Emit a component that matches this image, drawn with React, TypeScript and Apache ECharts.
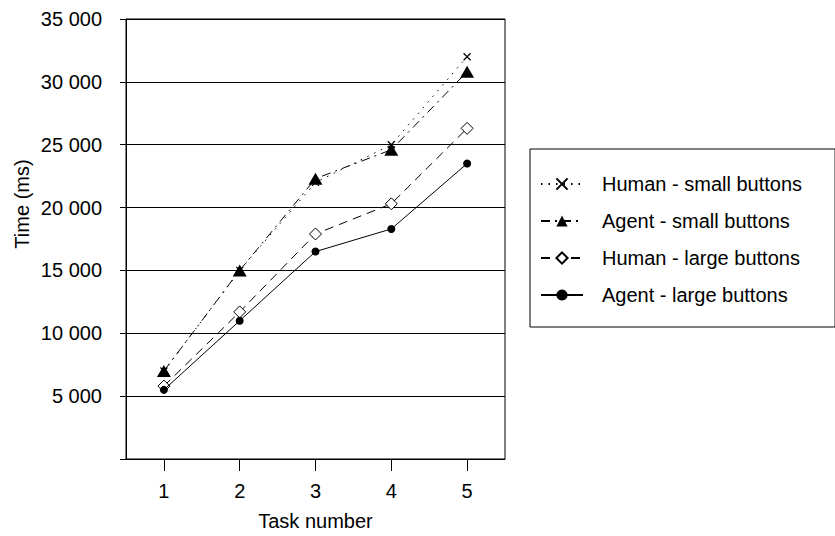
import React, { useEffect, useRef } from "react";
import * as echarts from "echarts";

const categories = ["1", "2", "3", "4", "5"];
const humanSmall = [7000, 15000, 22000, 25000, 32000];
const agentSmall = [7000, 15000, 22300, 24600, 30800];
const humanLarge = [5800, 11700, 17900, 20300, 26300];
const agentLarge = [5500, 11000, 16500, 18300, 23500];
const seriesNames = [
  "Human - small buttons",
  "Agent - small buttons",
  "Human - large buttons",
  "Agent - large buttons",
];

const FONT = "'Liberation Sans', Arial, sans-serif";
const FS = 20;

function fmt(v: number): string {
  if (v === 0) return "";
  return String(v).replace(/\B(?=(\d{3})+(?!\d))/g, " ");
}

export default function App() {
  const ref = useRef<HTMLDivElement>(null);
  useEffect(() => {
    if (!ref.current) return;
    const chart = echarts.init(ref.current, undefined, { renderer: "svg" });
    const black = "#000";
    chart.setOption({
      animation: false,
      backgroundColor: "#fff",
      textStyle: { fontFamily: FONT, color: black },
      grid: {
        left: 126,
        right: 330,
        top: 19,
        bottom: 75,
        show: true,
        borderColor: black,
        borderWidth: 1,
        backgroundColor: "transparent",
      },
      legend: {
        orient: "vertical",
        left: 530,
        top: 149,
        borderColor: black,
        borderWidth: 1,
        padding: [25, 33, 22, 10],
        itemWidth: 42,
        itemHeight: 14,
        itemGap: 17,
        textStyle: { fontSize: FS, color: black, fontFamily: FONT, padding: [0, 0, 0, 14] },
        data: seriesNames,
      },
      xAxis: {
        type: "category",
        data: categories,
        boundaryGap: true,
        name: "Task number",
        nameLocation: "middle",
        nameGap: 52,
        nameTextStyle: { fontSize: FS, color: black, fontFamily: FONT },
        axisLine: { show: true, lineStyle: { color: black, width: 1 } },
        axisTick: { show: true, alignWithLabel: true, length: 12, lineStyle: { color: black } },
        axisLabel: { fontSize: FS, color: black, margin: 22, fontFamily: FONT },
        splitLine: { show: false },
      },
      yAxis: {
        type: "value",
        min: 0,
        max: 35000,
        interval: 5000,
        name: "Time (ms)",
        nameLocation: "middle",
        nameGap: 94,
        nameTextStyle: { fontSize: FS, color: black, fontFamily: FONT, padding: [0, 0, 0, 70] },
        axisLine: { show: true, lineStyle: { color: black, width: 1 } },
        axisTick: { show: true, length: 6, lineStyle: { color: black } },
        axisLabel: { fontSize: FS, color: black, margin: 24, fontFamily: FONT, formatter: fmt },
        splitLine: { show: true, lineStyle: { color: black, width: 1 } },
      },
      series: [
        {
          name: seriesNames[0],
          type: "line",
          data: humanSmall,
          symbol: "path://M0,0L10,10M10,0L0,10",
          symbolSize: 7,
          itemStyle: { color: black, borderColor: black, borderWidth: 1.2 },
          lineStyle: { color: black, width: 1, type: [1.5, 6] },
          z: 2,
        },
        {
          name: seriesNames[1],
          type: "line",
          data: agentSmall,
          symbol: "triangle",
          symbolSize: [14, 12],
          itemStyle: { color: black },
          lineStyle: { color: black, width: 1, type: [9, 5, 2, 5] },
          z: 3,
        },
        {
          name: seriesNames[2],
          type: "line",
          data: humanLarge,
          symbol: "diamond",
          symbolSize: 12,
          itemStyle: { color: "#fff", borderColor: black, borderWidth: 1 },
          lineStyle: { color: black, width: 1, type: [9, 6] },
          z: 4,
        },
        {
          name: seriesNames[3],
          type: "line",
          data: agentLarge,
          symbol: "circle",
          symbolSize: 8,
          itemStyle: { color: black },
          lineStyle: { color: black, width: 1, type: "solid" },
          z: 5,
        },
      ],
    });
    return () => chart.dispose();
  }, []);
  return (
    <div
      ref={ref}
      style={{ position: "fixed", left: 0, top: 0, width: 835, height: 536, background: "#fff" }}
    />
  );
}
